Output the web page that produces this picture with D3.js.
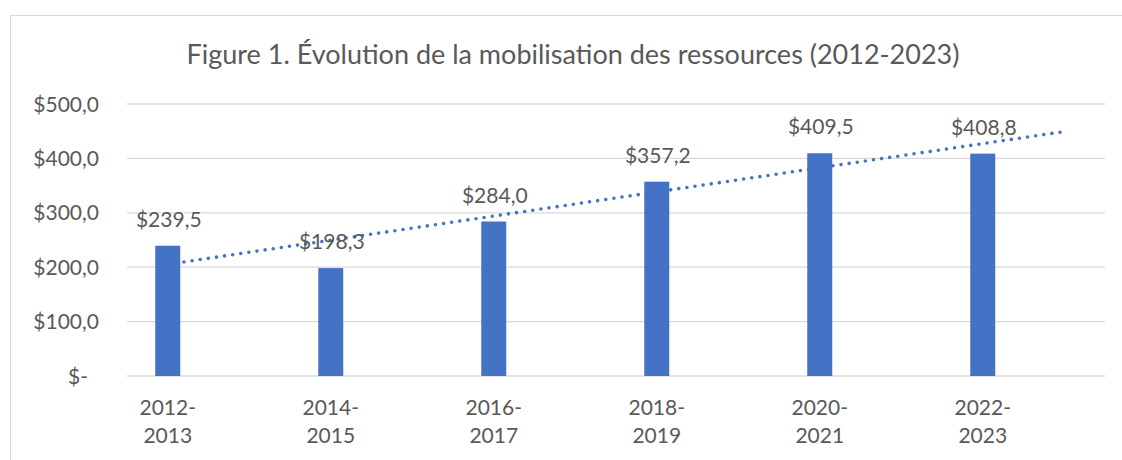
<!DOCTYPE html>
<html>
<head>
<meta charset="utf-8">
<script src="https://d3js.org/d3.v7.min.js"></script>
<style>
  body { margin: 0; background: #fff; }
  text { font-family: Lato, "Open Sans", sans-serif; fill: #595959; }
</style>
</head>
<body>
<div id="chart"></div>
<script>
// chart data
var periods = ["2012-2013", "2014-2015", "2016-2017", "2018-2019", "2020-2021", "2022-2023"];
var amounts = [239.5, 198.3, 284.0, 357.2, 409.5, 408.8];
var yTicks = [0, 100, 200, 300, 400, 500];
var yTickLabels = ["$-", "$100,0", "$200,0", "$300,0", "$400,0", "$500,0"];
var title = "Figure 1. Évolution de la mobilisation des ressources (2012-2023)";

var W = 1122, H = 460;
var margin = {top: 104, right: 17, bottom: 84, left: 127};

var svg = d3.select("#chart").append("svg")
  .attr("width", W)
  .attr("height", H);

// outer chart border (runs off the right and bottom of the picture)
svg.append("rect")
  .attr("x", 10.5).attr("y", 15.5)
  .attr("width", 1140).attr("height", 470)
  .attr("fill", "none")
  .attr("stroke", "#d9d9d9")
  .attr("stroke-width", 1);

svg.append("text")
  .attr("x", 573).attr("y", 64)
  .attr("text-anchor", "middle")
  .style("font-size", "27px")
  .text(title);

var x = d3.scaleBand()
  .domain(periods)
  .range([margin.left, W - margin.right]);

var y = d3.scaleLinear()
  .domain([0, 500])
  .range([H - margin.bottom, margin.top]);

// position of each bar inside its band
function cx(d) { return x(d) + x.bandwidth() * 0.25; }

// gridlines
svg.append("g")
  .selectAll("line")
  .data(yTicks)
  .enter().append("line")
  .attr("x1", x.range()[0]).attr("x2", x.range()[1])
  .attr("y1", function(d) { return y(d); })
  .attr("y2", function(d) { return y(d); })
  .attr("stroke", "#d9d9d9")
  .attr("stroke-width", 1.3);

// y tick labels
svg.append("g")
  .selectAll("text")
  .data(yTicks)
  .enter().append("text")
  .attr("x", function(d, i) { return i === 0 ? 88 : 99; })
  .attr("y", function(d) { return y(d); })
  .attr("dy", "0.36em")
  .attr("text-anchor", "end")
  .style("font-size", "21px")
  .text(function(d, i) { return yTickLabels[i]; });

// bars
var barW = 25;
svg.append("g")
  .selectAll("rect")
  .data(amounts)
  .enter().append("rect")
  .attr("x", function(d, i) { return cx(periods[i]) - barW / 2; })
  .attr("y", function(d) { return y(d); })
  .attr("width", barW)
  .attr("height", function(d) { return y(0) - y(d); })
  .attr("fill", "#4472c4");

// linear trendline (least squares, forecast forward half a period)
var n = amounts.length;
var mx = (n - 1) / 2;
var my = d3.mean(amounts);
var sxy = d3.sum(amounts, function(v, i) { return (i - mx) * (v - my); });
var sxx = d3.sum(amounts, function(v, i) { return (i - mx) * (i - mx); });
var slope = sxy / sxx;
var step = x.step();
var t0 = 0, t1 = n - 1 + 0.5;
svg.append("line")
  .attr("x1", cx(periods[0]) + t0 * step)
  .attr("y1", y(my + slope * (t0 - mx)))
  .attr("x2", cx(periods[0]) + t1 * step)
  .attr("y2", y(my + slope * (t1 - mx)))
  .attr("stroke", "#4472c4")
  .attr("stroke-width", 3.6)
  .attr("stroke-linecap", "round")
  .attr("stroke-dasharray", "0 8.2");

// data labels
svg.append("g")
  .selectAll("text")
  .data(amounts)
  .enter().append("text")
  .attr("x", function(d, i) { return cx(periods[i]) + 1; })
  .attr("y", function(d) { return y(d) - 19; })
  .attr("text-anchor", "middle")
  .style("font-size", "21px")
  .text(function(d) { return "$" + d.toFixed(1).replace(".", ","); });

// category labels, split over two lines
var cat = svg.append("g")
  .selectAll("text")
  .data(periods)
  .enter().append("text")
  .attr("x", function(d) { return cx(d); })
  .attr("text-anchor", "middle")
  .style("font-size", "21px");
cat.append("tspan")
  .attr("x", function(d) { return cx(d); })
  .attr("y", 415)
  .text(function(d) { return d.split("-")[0] + "-"; });
cat.append("tspan")
  .attr("x", function(d) { return cx(d); })
  .attr("y", 443)
  .text(function(d) { return d.split("-")[1]; });
</script>
</body>
</html>
